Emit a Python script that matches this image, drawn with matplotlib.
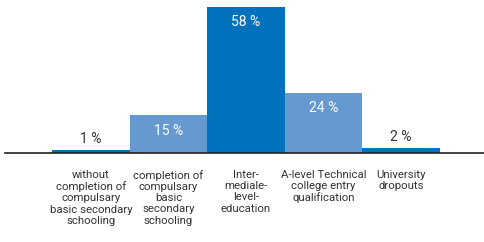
import matplotlib
matplotlib.use("Agg")
import matplotlib.pyplot as plt
import numpy as np

categories = [
    "without\ncompletion of\ncompulsary\nbasic secondary\nschooling",
    "completion of\ncompulsary\nbasic\nsecondary\nschooling",
    "Inter-\nmediale-\nlevel-\neducation",
    "A-level Technical\ncollege entry\nqualification",
    "University\ndropouts",
]
values = [1, 15, 58, 24, 2]
label_inside = [False, True, True, True, False]

DARK = "#0071BC"
LIGHT = "#6699D0"
colors = [DARK, LIGHT, DARK, LIGHT, DARK]

plt.rcParams["font.family"] = ["Roboto", "DejaVu Sans"]

fig = plt.figure(figsize=(4.85, 2.42), dpi=100)
ax = fig.add_axes([5 / 485, (242 - 153) / 242, 480 / 485, 146 / 242])

x = np.arange(len(values))
ax.bar(x, values, width=1.0, color=colors, linewidth=0)

for xi, v, inside in zip(x, values, label_inside):
    if inside:
        ax.annotate(f"{v} %", (xi, v), xytext=(0, -6), textcoords="offset points",
                    ha="center", va="top", color="white", fontsize=10)
    else:
        ax.annotate(f"{v} %", (xi, v), xytext=(0, 3), textcoords="offset points",
                    ha="center", va="bottom", color="#333333", fontsize=10)

ax.set_xlim(-1.106, 5.08)
ax.set_ylim(0, 58)

ax.set_xticks(x)
ax.set_xticklabels(categories, fontsize=8.2, color="#333333", linespacing=1.16)
ax.tick_params(axis="x", length=0, pad=12)
ax.set_yticks([])

for side in ("top", "right", "left"):
    ax.spines[side].set_visible(False)
ax.spines["bottom"].set_color("#222222")
ax.spines["bottom"].set_linewidth(1.2)

fig.savefig("out.png", dpi=100)
